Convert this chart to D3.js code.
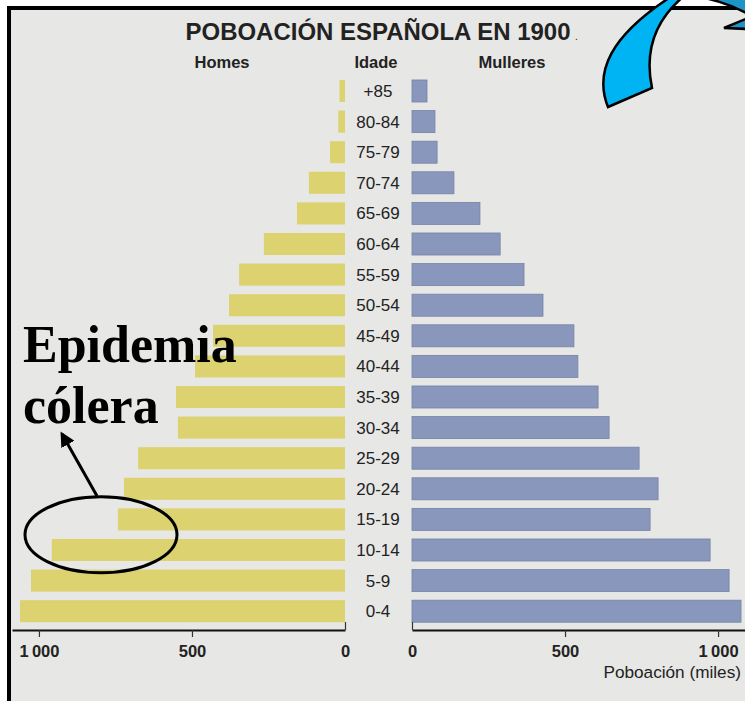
<!DOCTYPE html>
<html>
<head>
<meta charset="utf-8">
<script src="https://cdn.jsdelivr.net/npm/d3@7"></script>
<style>
  body { margin: 0; background: #fff; }
  #chart { width: 745px; height: 701px; }
  text { font-family: "Liberation Sans", Arial, sans-serif; fill: #222; }
</style>
</head>
<body>
<div id="chart"></div>
<script>
// age groups, top to bottom
const ages = ["+85", "80-84", "75-79", "70-74", "65-69", "60-64", "55-59", "50-54", "45-49",
  "40-44", "35-39", "30-34", "25-29", "20-24", "15-19", "10-14", "5-9", "0-4"];
// population in thousands
const homes = [18, 22, 49, 118, 157, 265, 346, 379, 431, 490, 552, 546, 676, 722, 742, 958, 1026, 1062];
const mulleres = [49, 75, 82, 137, 222, 288, 366, 428, 529, 542, 608, 644, 742, 804, 778, 974, 1036, 1075];
const tickValues = [0, 500, 1000];

const width = 745;
const height = 701;

const svg = d3.select("#chart")
  .append("svg")
  .attr("width", width)
  .attr("height", height);

// frame + paper
svg.append("rect")
  .attr("x", 9).attr("y", 8)
  .attr("width", width).attr("height", height)
  .attr("fill", "#e7e7e5")
  .attr("stroke", "#000")
  .attr("stroke-width", 4);

// scales
const xL = d3.scaleLinear().domain([0, 1088]).range([345, 12]);
const xR = d3.scaleLinear().domain([0, 1088]).range([412, 745]);
const y = d3.scaleBand().domain(ages).range([75.7, 626.5]).paddingInner(0.28).paddingOuter(0.14);

// bars
svg.append("g")
  .selectAll("rect")
  .data(ages)
  .join("rect")
  .attr("x", (d, i) => xL(homes[i]))
  .attr("y", d => y(d))
  .attr("width", (d, i) => xL(0) - xL(homes[i]))
  .attr("height", y.bandwidth())
  .attr("fill", "#dcd270");

svg.append("g")
  .selectAll("rect")
  .data(ages)
  .join("rect")
  .attr("x", xR(0))
  .attr("y", d => y(d))
  .attr("width", (d, i) => xR(mulleres[i]) - xR(0))
  .attr("height", y.bandwidth())
  .attr("fill", "#8a97bc")
  .attr("stroke", "#7682a6")
  .attr("stroke-width", 0.8);

// age labels
svg.append("g")
  .selectAll("text")
  .data(ages)
  .join("text")
  .attr("x", 378)
  .attr("y", d => y(d) + y.bandwidth() / 2 + 6)
  .attr("text-anchor", "middle")
  .style("font-size", "17px")
  .text(d => d);

// axes
const fmt = d => d === 1000 ? "1\u2009000" : d;

function drawAxis(scale) {
  const g = svg.append("g")
    .attr("transform", "translate(0,630)")
    .call(d3.axisBottom(scale).tickValues(tickValues).tickFormat(fmt)
      .tickSize(7).tickSizeOuter(0).tickPadding(8));
  g.select(".domain").attr("stroke", "#111").attr("stroke-width", 2);
  g.selectAll(".tick line").attr("stroke", "#333").attr("stroke-width", 1.2)
    .filter(d => d === 0).attr("y2", -8);
  g.selectAll(".tick text")
    .style("font-size", "16.5px")
    .style("font-weight", "bold")
    .style("font-family", "'Liberation Sans', Arial, sans-serif")
    .attr("fill", "#222");
}
drawAxis(xL);
drawAxis(xR);

svg.append("text")
  .attr("x", 741).attr("y", 678)
  .attr("text-anchor", "end")
  .style("font-size", "17.2px")
  .text("Poboación (miles)");

// titles
svg.append("text")
  .attr("x", 378).attr("y", 40)
  .attr("text-anchor", "middle")
  .attr("textLength", 385)
  .attr("lengthAdjust", "spacingAndGlyphs")
  .style("font-size", "23px")
  .style("font-weight", "bold")
  .text("POBOACIÓN ESPAÑOLA EN 1900");

svg.append("text")
  .attr("x", 575).attr("y", 40)
  .style("font-size", "10px")
  .text(".");

const heads = [["Homes", 222], ["Idade", 376], ["Mulleres", 512]];
svg.append("g")
  .selectAll("text")
  .data(heads)
  .join("text")
  .attr("x", d => d[1])
  .attr("y", 68)
  .attr("text-anchor", "middle")
  .style("font-size", "16.5px")
  .style("font-weight", "bold")
  .text(d => d[0]);

// annotation: cholera epidemic
const ann = svg.append("g");
ann.append("text")
  .attr("x", 23).attr("y", 362)
  .style("font-family", "'Liberation Serif', 'Times New Roman', serif")
  .style("font-size", "52px")
  .style("font-weight", "bold")
  .style("fill", "#000")
  .text("Epidemia");
ann.append("text")
  .attr("x", 23).attr("y", 423)
  .style("font-family", "'Liberation Serif', 'Times New Roman', serif")
  .style("font-size", "52px")
  .style("font-weight", "bold")
  .style("fill", "#000")
  .text("cólera");

const ey = (y("15-19") + y("10-14") + y.bandwidth()) / 2;
ann.append("ellipse")
  .attr("cx", 101).attr("cy", ey)
  .attr("rx", 76).attr("ry", 38)
  .attr("fill", "none")
  .attr("stroke", "#000")
  .attr("stroke-width", 3);

svg.append("defs").append("marker")
  .attr("id", "head")
  .attr("viewBox", "0 0 10 10")
  .attr("refX", 8).attr("refY", 5)
  .attr("markerWidth", 5).attr("markerHeight", 5)
  .attr("orient", "auto")
  .append("path")
  .attr("d", "M0,0 L10,5 L0,10 Z")
  .attr("fill", "#000");

ann.append("line")
  .attr("x1", 97).attr("y1", 496)
  .attr("x2", 62).attr("y2", 434)
  .attr("stroke", "#000")
  .attr("stroke-width", 3)
  .attr("marker-end", "url(#head)");

// curved blue arrow in the corner
const arrow = svg.append("g").attr("stroke", "#000").attr("stroke-width", 2.5);
arrow.append("path")
  .attr("d", "M608,107 C594,72 610,36 672,-4 L684,-4 C660,16 643,45 652,88 Z")
  .attr("fill", "#00b4f4");
arrow.append("path")
  .attr("d", "M700,-3 Q726,2 748,14 L748,-3 Z")
  .attr("fill", "#1c94c8");
arrow.append("path")
  .attr("d", "M724,28 L748,18 L748,29 Z")
  .attr("fill", "#1c94c8");
</script>
</body>
</html>
